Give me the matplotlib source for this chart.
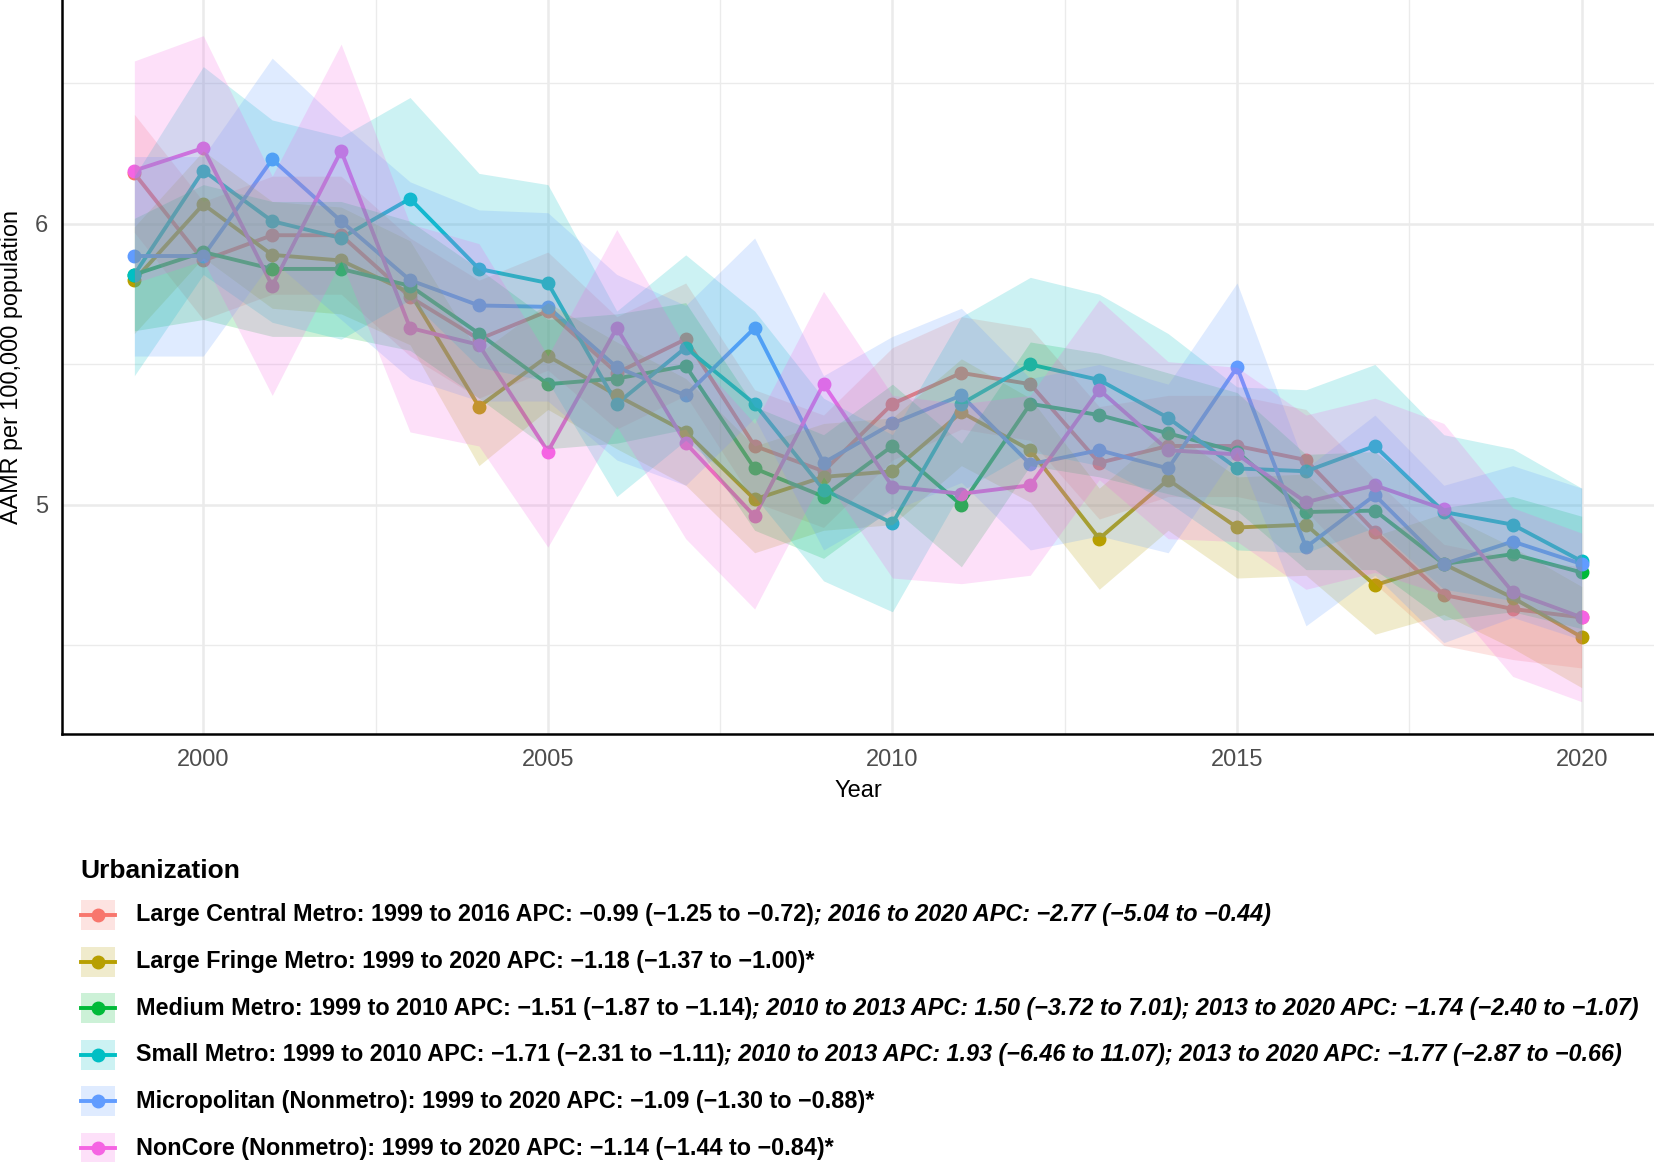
import matplotlib
matplotlib.use('Agg')
import matplotlib.pyplot as plt
from matplotlib.ticker import MultipleLocator
from matplotlib.lines import Line2D
from matplotlib.patches import Rectangle

# AAMR per 100,000 by urbanization, 1999-2020
years = list(range(1999, 2021))

large_central = [6.18, 5.87, 5.96, 5.96, 5.74, 5.59, 5.69, 5.47, 5.59, 5.21, 5.12,
                 5.36, 5.47, 5.43, 5.15, 5.21, 5.21, 5.16, 4.905, 4.68, 4.63, 4.60]
large_central_lo = [5.97, 5.66, 5.75, 5.75, 5.53, 5.38, 5.48, 5.27, 5.39, 5.01, 4.92,
                    5.16, 5.27, 5.23, 4.95, 5.03, 5.03, 4.98, 4.72, 4.50, 4.45, 4.42]
large_central_hi = [6.39, 6.08, 6.17, 6.17, 5.95, 5.80, 5.90, 5.67, 5.79, 5.41, 5.32,
                    5.56, 5.67, 5.63, 5.35, 5.39, 5.39, 5.34, 5.09, 4.86, 4.81, 4.78]

large_fringe = [5.80, 6.07, 5.89, 5.87, 5.755, 5.35, 5.53, 5.39, 5.26, 5.02, 5.10,
                5.12, 5.33, 5.195, 4.88, 5.09, 4.92, 4.93, 4.715, 4.79, 4.67, 4.53]
large_fringe_lo = [5.61, 5.88, 5.70, 5.68, 5.57, 5.14, 5.34, 5.20, 5.07, 4.83, 4.91,
                   4.93, 5.14, 5.01, 4.70, 4.91, 4.74, 4.75, 4.54, 4.61, 4.49, 4.35]
large_fringe_hi = [5.99, 6.26, 6.08, 6.06, 5.94, 5.54, 5.72, 5.58, 5.45, 5.21, 5.29,
                   5.31, 5.52, 5.38, 5.06, 5.27, 5.10, 5.11, 4.89, 4.97, 4.85, 4.71]

medium = [5.82, 5.90, 5.84, 5.84, 5.78, 5.61, 5.43, 5.45, 5.495, 5.13, 5.03,
          5.21, 5.00, 5.36, 5.32, 5.255, 5.19, 4.975, 4.98, 4.79, 4.825, 4.76]
medium_lo = [5.62, 5.66, 5.60, 5.60, 5.55, 5.38, 5.20, 5.22, 5.27, 4.91, 4.81,
             4.99, 4.78, 5.14, 5.10, 5.04, 4.98, 4.77, 4.77, 4.59, 4.62, 4.56]
medium_hi = [6.02, 6.14, 6.08, 6.08, 6.01, 5.84, 5.66, 5.68, 5.72, 5.35, 5.25,
             5.43, 5.22, 5.58, 5.54, 5.47, 5.40, 5.18, 5.19, 4.99, 5.03, 4.96]

small = [5.82, 6.19, 6.01, 5.95, 6.09, 5.84, 5.79, 5.36, 5.56, 5.36, 5.055,
         4.935, 5.36, 5.50, 5.445, 5.31, 5.13, 5.12, 5.21, 4.975, 4.93, 4.80]
small_lo = [5.46, 5.82, 5.65, 5.59, 5.73, 5.49, 5.44, 5.03, 5.23, 5.03, 4.73,
            4.62, 5.05, 5.19, 5.14, 5.01, 4.84, 4.83, 4.92, 4.70, 4.66, 4.54]
small_hi = [6.17, 6.56, 6.37, 6.31, 6.45, 6.18, 6.14, 5.69, 5.89, 5.69, 5.38,
            5.25, 5.67, 5.81, 5.75, 5.61, 5.42, 5.41, 5.50, 5.25, 5.20, 5.06]

micropolitan = [5.886, 5.886, 6.23, 6.01, 5.80, 5.71, 5.705, 5.49, 5.39, 5.63, 5.15,
                5.29, 5.39, 5.145, 5.195, 5.13, 5.49, 4.85, 5.035, 4.79, 4.87, 4.79]
micropolitan_lo = [5.53, 5.53, 5.87, 5.66, 5.45, 5.37, 5.37, 5.16, 5.07, 5.31, 4.84,
                   4.98, 5.08, 4.84, 4.89, 4.83, 5.19, 4.57, 4.75, 4.51, 4.60, 4.52]
micropolitan_hi = [6.24, 6.24, 6.59, 6.36, 6.15, 6.05, 6.04, 5.82, 5.71, 5.95, 5.46,
                   5.60, 5.70, 5.45, 5.50, 5.43, 5.79, 5.13, 5.32, 5.07, 5.14, 5.06]

noncore = [6.19, 6.27, 5.78, 6.26, 5.63, 5.57, 5.19, 5.63, 5.22, 4.96, 5.43,
           5.065, 5.04, 5.07, 5.41, 5.195, 5.18, 5.01, 5.07, 4.985, 4.69, 4.60]
noncore_lo = [5.79, 5.87, 5.39, 5.87, 5.26, 5.21, 4.85, 5.28, 4.88, 4.63, 5.10,
              4.74, 4.72, 4.75, 5.09, 4.88, 4.87, 4.70, 4.76, 4.68, 4.39, 4.30]
noncore_hi = [6.58, 6.67, 6.17, 6.64, 6.00, 5.93, 5.53, 5.98, 5.56, 5.29, 5.76,
              5.39, 5.36, 5.39, 5.73, 5.51, 5.49, 5.32, 5.38, 5.29, 4.99, 4.90]

colors = ['#F8766D', '#B79F00', '#00BA38', '#00BFC4', '#619CFF', '#F564E3']

legend_main = [
    'Large Central Metro: 1999 to 2016 APC: \u22120.99 (\u22121.25 to \u22120.72)',
    'Large Fringe Metro: 1999 to 2020 APC: \u22121.18 (\u22121.37 to \u22121.00)*',
    'Medium Metro: 1999 to 2010 APC: \u22121.51 (\u22121.87 to \u22121.14)',
    'Small Metro: 1999 to 2010 APC: \u22121.71 (\u22122.31 to \u22121.11)',
    'Micropolitan (Nonmetro): 1999 to 2020 APC: \u22121.09 (\u22121.30 to \u22120.88)*',
    'NonCore (Nonmetro): 1999 to 2020 APC: \u22121.14 (\u22121.44 to \u22120.84)*',
]
legend_extra = [
    '; 2016 to 2020 APC: \u22122.77 (\u22125.04 to \u22120.44)',
    '',
    '; 2010 to 2013 APC: 1.50 (\u22123.72 to 7.01); 2013 to 2020 APC: \u22121.74 (\u22122.40 to \u22121.07)',
    '; 2010 to 2013 APC: 1.93 (\u22126.46 to 11.07); 2013 to 2020 APC: \u22121.77 (\u22122.87 to \u22120.66)',
    '',
    '',
]

series = [
    (large_central, large_central_lo, large_central_hi),
    (large_fringe, large_fringe_lo, large_fringe_hi),
    (medium, medium_lo, medium_hi),
    (small, small_lo, small_hi),
    (micropolitan, micropolitan_lo, micropolitan_hi),
    (noncore, noncore_lo, noncore_hi),
]

plt.rcParams['font.family'] = ['Liberation Sans', 'DejaVu Sans']

W, H = 1654, 1162
fig = plt.figure(figsize=(W / 100, H / 100), dpi=100)


def fx(px):
    return px / W


def fy(py):
    return 1 - py / H


ax = fig.add_axes([fx(62), fy(734), fx(W - 62), 734 / H])

# lines and points first, the ribbons sit on top of them
for (vals, lo, hi), c in zip(series, colors):
    ax.plot(years, vals, color=c, lw=2.8, zorder=3)
for (vals, lo, hi), c in zip(series, colors):
    ax.plot(years, vals, ls='none', marker='o', ms=9, color=c, zorder=3.5)
for (vals, lo, hi), c in zip(series, colors):
    ax.fill_between(years, lo, hi, color=c, alpha=0.2, lw=0, zorder=4)

ax.set_xlim(1997.95, 2021.05)
ax.set_ylim(4.185, 6.797)
ax.xaxis.set_major_locator(MultipleLocator(5))
ax.xaxis.set_minor_locator(MultipleLocator(2.5))
ax.yaxis.set_major_locator(MultipleLocator(1))
ax.yaxis.set_minor_locator(MultipleLocator(0.5))
ax.set_axisbelow(True)
ax.grid(which='major', color='#EBEBEB', lw=1.8)
ax.grid(which='minor', color='#EBEBEB', lw=1.0)
ax.tick_params(which='both', length=0, labelsize=17, labelcolor='#4D4D4D')
ax.tick_params(axis='x', pad=11)
ax.tick_params(axis='y', pad=10)
for s in ['top', 'right']:
    ax.spines[s].set_visible(False)
for s in ['left', 'bottom']:
    ax.spines[s].set_linewidth(1.8)
    ax.spines[s].set_color('black')

fig.text(fx(858), fy(791), 'Year', fontsize=17, ha='center', va='center')
fig.text(fx(12), fy(367), 'AAMR per 100,000 population', fontsize=16.8,
         rotation=90, ha='center', va='center')

# legend below the plot
fig.text(fx(80), fy(871), 'Urbanization', fontsize=19, weight='bold',
         ha='left', va='center')
renderer = fig.canvas.get_renderer()
for i, c in enumerate(colors):
    y = 915 + i * 46.6
    fig.add_artist(Line2D([fx(81), fx(115)], [fy(y), fy(y)], color=c, lw=2.8,
                          transform=fig.transFigure))
    fig.add_artist(Line2D([fx(98)], [fy(y)], marker='o', ms=9, color=c,
                          transform=fig.transFigure))
    fig.add_artist(Rectangle((fx(81), fy(y + 15)), fx(34), 30 / H, color=c,
                             alpha=0.2, lw=0, transform=fig.transFigure))
    t = fig.text(fx(136), fy(y), legend_main[i], fontsize=16.8, weight='bold',
                 ha='left', va='center')
    if legend_extra[i]:
        x1 = t.get_window_extent(renderer).x1
        fig.text(x1 / W, fy(y), legend_extra[i], fontsize=16.8, weight='bold',
                 style='italic', ha='left', va='center')

fig.savefig('out.png', dpi=100)
